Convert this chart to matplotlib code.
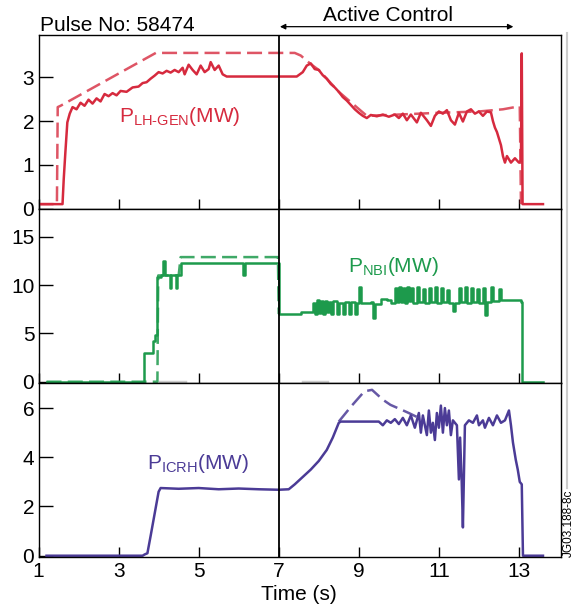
import matplotlib
matplotlib.use("Agg")
import matplotlib.pyplot as plt
from matplotlib.lines import Line2D

plt.rcParams['font.family'] = ['Liberation Sans', 'DejaVu Sans']
plt.rcParams['mathtext.fontset'] = 'custom'
plt.rcParams['mathtext.rm'] = 'Liberation Sans'
plt.rcParams['mathtext.it'] = 'Liberation Sans'

# --- LH power (MW), solid = measured, dashed = requested
lh_t = [1.0, 1.60, 1.63, 1.67, 1.72, 1.78, 1.85, 1.95, 2.05, 2.15,
        2.25, 2.35, 2.45, 2.55, 2.65, 2.75, 2.85, 2.95, 3.05, 3.20,
        3.35, 3.50, 3.60, 3.70, 3.80, 3.90, 4.00, 4.10, 4.20, 4.30,
        4.40, 4.50, 4.60, 4.65, 4.75, 4.85, 4.95, 5.05, 5.15, 5.25,
        5.30, 5.40, 5.50, 5.60, 5.70, 7.45, 7.60, 7.70, 7.80, 7.90,
        8.00, 8.10, 8.20, 8.30, 8.40, 8.50, 8.60, 8.70, 8.80, 8.90,
        9.00, 9.10, 9.20, 9.30, 9.45, 9.60, 9.75, 9.90, 10.0, 10.1,
        10.2, 10.3, 10.45, 10.55, 10.7, 10.8, 10.9, 11.0, 11.1, 11.2,
        11.3, 11.4, 11.5, 11.6, 11.7, 11.8, 11.9, 12.0, 12.1, 12.2,
        12.3, 12.35, 12.4, 12.45, 12.5, 12.55, 12.6, 12.65, 12.7, 12.8,
        12.9, 13.0, 13.05, 13.07, 13.09, 13.6]
lh_v = [0.10, 0.10, 0.67, 1.27, 1.97, 2.17, 2.32, 2.27, 2.42, 2.35,
        2.49, 2.40, 2.52, 2.45, 2.62, 2.57, 2.64, 2.59, 2.69, 2.67,
        2.77, 2.79, 2.87, 2.89, 2.97, 3.04, 3.12, 3.09, 3.15, 3.11,
        3.17, 3.12, 3.22, 3.07, 3.29, 3.17, 3.07, 3.27, 3.12, 3.19,
        3.35, 3.17, 3.27, 3.07, 3.02, 3.02, 3.12, 3.27, 3.32, 3.19,
        3.17, 3.05, 2.97, 2.85, 2.77, 2.67, 2.55, 2.47, 2.37, 2.27,
        2.19, 2.12, 2.07, 2.14, 2.11, 2.15, 2.10, 2.15, 2.07, 2.17,
        2.02, 2.15, 1.97, 2.19, 2.02, 1.89, 2.12, 2.22, 2.17, 2.25,
        2.02, 1.92, 2.19, 1.99, 2.22, 2.27, 2.17, 2.22, 2.12, 2.22,
        2.20, 2.00, 1.85, 1.75, 1.60, 1.45, 1.20, 1.05, 1.20, 1.05,
        1.15, 1.05, 1.10, 3.55, 0.10, 0.10]
lh_ref_t = [1.0, 1.46, 1.48, 1.55, 3.93, 7.40, 7.55, 7.70, 7.85, 8.0,
            8.5, 9.2, 10.0, 11.0, 12.0, 12.6, 13.02, 13.05]
lh_ref_v = [0.10, 0.10, 2.32, 2.35, 3.56, 3.56, 3.50, 3.38, 3.27, 3.17,
            2.67, 2.12, 2.15, 2.19, 2.22, 2.27, 2.34, 0.10]

# --- NBI power (MW), step signal
nbi_t = [1.2, 3.62, 3.63, 3.82, 3.85, 3.90, 3.95, 4.05, 4.10, 4.15,
         4.25, 4.28, 4.32, 4.40, 4.43, 4.47, 4.52, 4.55, 6.08, 6.10,
         6.15, 6.98, 7.00, 7.45, 7.55, 7.80, 7.85, 7.90, 7.95, 8.00,
         8.05, 8.10, 8.15, 8.20, 8.25, 8.30, 8.35, 8.45, 8.50, 8.60,
         8.65, 8.75, 8.80, 8.90, 8.95, 9.00, 9.05, 9.30, 9.35, 9.40,
         9.55, 9.70, 9.80, 9.90, 9.95, 10.0, 10.05, 10.1, 10.15, 10.2,
         10.25, 10.3, 10.35, 10.45, 10.5, 10.6, 10.65, 10.75, 10.8, 10.9,
         10.95, 11.05, 11.1, 11.2, 11.25, 11.35, 11.4, 11.5, 11.55, 11.65,
         11.7, 11.8, 11.85, 11.95, 12.0, 12.1, 12.15, 12.2, 12.3, 12.35,
         12.5, 12.55, 12.95, 13.05, 13.07, 13.6]
nbi_v = [0.0, 0.0, 3.0, 3.0, 4.2, 4.8, 10.8, 11.0, 12.5, 11.0,
         11.0, 9.7, 11.0, 11.0, 9.7, 11.0, 11.0, 12.3, 12.3, 11.0,
         12.3, 12.3, 7.0, 7.0, 7.2, 7.2, 8.2, 7.0, 8.5, 7.1,
         8.4, 7.0, 8.4, 7.2, 8.3, 7.0, 8.4, 7.0, 8.2, 7.0,
         8.3, 7.0, 8.3, 7.0, 8.2, 9.8, 8.2, 8.3, 6.6, 8.0,
         8.6, 8.5, 8.2, 9.7, 8.3, 9.8, 8.3, 9.7, 8.2, 9.8,
         8.4, 9.7, 8.2, 9.8, 8.3, 9.6, 8.2, 9.7, 8.3, 9.8,
         8.2, 9.7, 8.3, 9.5, 8.2, 7.3, 8.2, 9.7, 8.3, 9.8,
         8.2, 9.7, 8.3, 9.6, 8.2, 9.7, 6.9, 8.3, 9.8, 8.4,
         9.6, 8.5, 8.5, 8.3, 0.0, 0.0]
nbi_ref_t = [1.2, 3.97, 3.99, 4.50, 4.55, 6.98, 7.00]
nbi_ref_v = [0.0, 0.0, 11.0, 11.0, 12.9, 12.9, 7.0]
nbi_off_t = [[4.04, 4.67], [7.60, 8.20]]

# --- ICRH power (MW)
icrh_t = [1.2, 3.60, 3.65, 3.72, 3.80, 3.90, 4.00, 4.05, 4.50, 5.00,
          5.50, 6.00, 6.50, 7.00, 7.25, 7.40, 7.60, 7.80, 8.00, 8.20,
          8.35, 8.50, 8.55, 9.00, 9.50, 9.60, 9.70, 9.80, 9.90, 10.0,
          10.1, 10.2, 10.3, 10.4, 10.5, 10.55, 10.6, 10.7, 10.75, 10.8,
          10.85, 10.9, 10.95, 11.0, 11.05, 11.1, 11.15, 11.2, 11.25, 11.3,
          11.35, 11.45, 11.5, 11.53, 11.57, 11.6, 11.65, 11.75, 11.85, 11.95,
          12.0, 12.1, 12.15, 12.25, 12.35, 12.45, 12.55, 12.65, 12.75, 12.8,
          12.85, 12.92, 12.97, 13.02, 13.07, 13.10, 13.6]
icrh_v = [0.0, 0.0, 0.05, 0.1, 0.8, 1.7, 2.6, 2.75, 2.72, 2.75,
          2.70, 2.73, 2.70, 2.68, 2.70, 2.90, 3.20, 3.50, 3.85, 4.30,
          4.80, 5.40, 5.45, 5.45, 5.45, 5.30, 5.50, 5.40, 5.55, 5.35,
          5.60, 5.30, 5.70, 5.20, 5.80, 5.00, 5.70, 4.90, 5.90, 5.00,
          5.40, 4.70, 5.80, 5.20, 6.10, 5.00, 6.00, 5.30, 5.90, 4.90,
          5.50, 5.30, 3.10, 4.80, 3.00, 1.15, 5.30, 5.50, 5.40, 5.70,
          5.30, 5.50, 5.20, 5.60, 5.30, 5.70, 5.40, 5.50, 5.90, 5.30,
          4.60, 3.90, 3.50, 3.00, 2.90, 0.0, 0.0]
icrh_ref_t = [8.50, 8.81, 9.14, 9.33, 9.60, 9.79, 10.07, 10.26, 10.5]
icrh_ref_v = [5.45, 6.07, 6.68, 6.74, 6.34, 6.13, 5.93, 5.79, 5.60]

red = '#d62a3e'
green = '#1d9a4c'
purple = '#4b3b96'

fig = plt.figure(figsize=(5.84, 6.13), dpi=100)
W, H = 584.0, 613.0
left, right = 38.5 / W, 561 / W
boxes = [(35, 208.5), (208.5, 382.7), (382.7, 556.7)]
axs = []
for top, bot in boxes:
    ax = fig.add_axes([left, 1 - bot / H, right - left, (bot - top) / H])
    axs.append(ax)

ax1, ax2, ax3 = axs

ax1.plot(lh_t, lh_v, color=red, lw=1.8)
ax1.plot(lh_ref_t, lh_ref_v, color=red, lw=1.8, alpha=0.8, dashes=(6, 2.5))
ax1.set_ylim(0.067, 3.97)
ax1.set_yticks([0, 1, 2, 3])
ax1.text(3.0, 2.1, r'P$_{\mathrm{LH‐GEN}}$(MW)', color=red, fontsize=15,
         ha='left', va='center')

for seg in nbi_off_t:
    ax2.plot(seg, [0, 0], color='#cccccc', lw=2.5)
ax2.plot(nbi_t, nbi_v, color=green, lw=1.8, drawstyle='steps-post')
ax2.plot(nbi_ref_t, nbi_ref_v, color=green, lw=1.8, alpha=0.85, dashes=(6, 2.5))
ax2.set_ylim(-0.1, 17.93)
ax2.set_yticks([0, 5, 10, 15])
ax2.text(8.72, 11.9, r'P$_{\mathrm{NBI}}$(MW)', color=green, fontsize=15,
         ha='left', va='center')

ax3.plot(icrh_t, icrh_v, color=purple, lw=1.8)
ax3.plot(icrh_ref_t, icrh_ref_v, color=purple, lw=1.8, alpha=0.85, dashes=(6, 2.5))
ax3.set_ylim(-0.04, 7.03)
ax3.set_yticks([0, 2, 4, 6])
ax3.text(3.70, 3.76, r'P$_{\mathrm{ICRH}}$(MW)', color=purple, fontsize=15,
         ha='left', va='center')

for ax in axs:
    ax.set_xlim(1, 14.05)
    ax.set_xticks([1, 3, 5, 7, 9, 11, 13])
    ax.axvline(7, color='black', lw=1.3)
    ax.tick_params(axis='x', direction='in', length=7, width=1, labelsize=15, pad=4)
    ax.tick_params(axis='y', direction='in', length=10, width=1, labelsize=15, pad=3)
    for s in ax.spines.values():
        s.set_linewidth(1.0)
for ax in (ax1, ax2):
    ax.tick_params(axis='x', labelbottom=False)

# header
fig.text(40 / W, 1 - 31 / H, 'Pulse No: 58474', fontsize=15, ha='left', va='baseline')
ax1.annotate('', xy=(7.03, 1.048), xytext=(12.86, 1.048),
             xycoords=('data', 'axes fraction'), textcoords=('data', 'axes fraction'),
             arrowprops=dict(arrowstyle='<|-|>', lw=0.9, color='black',
                             mutation_scale=8, shrinkA=0, shrinkB=0))
ax1.text(9.72, 1.083, 'Active Control', transform=ax1.get_xaxis_transform(),
         fontsize=15, ha='center', va='baseline')

fig.text(299 / W, 1 - 600 / H, 'Time (s)', fontsize=15, ha='center', va='baseline')

fig.add_artist(Line2D([567 / W, 567 / W], [1 - 33 / H, 1 - 488 / H],
                      color='#cccccc', lw=1.5))
fig.text(569 / W, 1 - 523 / H, 'JG03.188-8c', fontsize=8.5, rotation=90,
         ha='center', va='center')

fig.savefig('out.png', dpi=100)
